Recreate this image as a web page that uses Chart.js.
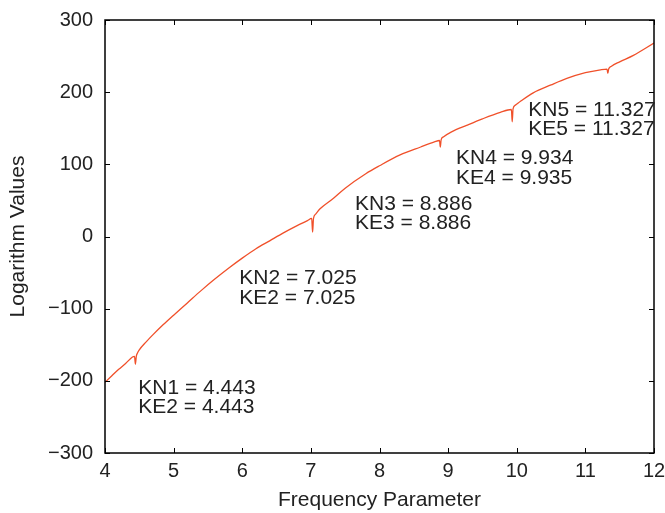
<!DOCTYPE html>
<html>

<head>
    <title>Logarithm Values</title>
    <script src="https://cdn.jsdelivr.net/npm/chart.js"></script>
    <style>
        html, body { margin: 0; padding: 0; background: #fff; }
        .chart-box { width: 665px; height: 513px; }
    </style>
</head>

<body>
    <div class="chart-box">
        <canvas id="chart" width="665" height="513"></canvas>
    </div>

    <script type="text/javascript">
        // curve samples
        const freq = [4.0, 4.1, 4.2, 4.3, 4.4, 4.43, 4.443, 4.456, 4.47, 4.5, 4.6, 4.7, 4.85, 5.0, 5.2, 5.4,
            5.6, 5.8, 6.0, 6.2, 6.4, 6.6, 6.8, 6.95, 7.012, 7.025, 7.038, 7.07, 7.13, 7.33, 7.5, 7.8,
            8.0, 8.3, 8.6, 8.8, 8.874, 8.886, 8.898, 8.93, 9.05, 9.27, 9.5, 9.76, 9.922, 9.934, 9.946, 9.98,
            10.05, 10.24, 10.5, 10.73, 11.0, 11.22, 11.315, 11.327, 11.339, 11.38, 11.5, 11.7, 12.0];
        const logValues = [-202, -193, -184, -176, -167, -166, -177, -166, -162, -157, -146, -136, -122, -109, -92, -75,
            -59, -44, -30, -17, -6, 5, 15, 22, 25, 6, 25, 31, 38, 53, 67, 87,
            98, 113, 124, 131, 133, 124, 134, 138, 145, 154, 163, 172, 176, 159, 177, 182,
            187, 199, 210, 219, 227, 231, 232, 226, 232, 236, 242, 251, 268];

        const xTicks = [4, 5, 6, 7, 8, 9, 10, 11, 12];
        const yTicks = [-300, -200, -100, 0, 100, 200, 300];

        // annotation text and where its first line sits (data coords)
        const noteLines = [
            ['KN1 = 4.443', 'KE2 = 4.443'],
            ['KN2 = 7.025', 'KE2 = 7.025'],
            ['KN3 = 8.886', 'KE3 = 8.886'],
            ['KN4 = 9.934', 'KE4 = 9.935'],
            ['KN5 = 11.327', 'KE5 = 11.327'],
        ];
        const noteX = [4.485, 5.957, 7.643, 9.115, 10.168];
        const noteY = [-218, -66, 37, 100, 167];

        const textColor = '#222';
        const fontFamily = '"Liberation Sans", Arial, sans-serif';

        // box around plot area + inward ticks on all sides + the KN/KE notes
        const boxPlugin = {
            id: 'box',
            afterDatasetsDraw(chart) {
                const ctx = chart.ctx;
                const a = chart.chartArea;
                const xs = chart.scales.x, ys = chart.scales.y;
                ctx.save();
                ctx.strokeStyle = '#000';
                ctx.lineWidth = 1.5;
                ctx.strokeRect(a.left, a.top, a.right - a.left, a.bottom - a.top);

                ctx.lineWidth = 1;
                ctx.beginPath();
                xTicks.forEach(v => {
                    let px = Math.round(xs.getPixelForValue(v)) + 0.5;
                    ctx.moveTo(px, a.bottom); ctx.lineTo(px, a.bottom - 5);
                    ctx.moveTo(px, a.top); ctx.lineTo(px, a.top + 5);
                });
                yTicks.forEach(v => {
                    let py = Math.round(ys.getPixelForValue(v)) + 0.5;
                    ctx.moveTo(a.left, py); ctx.lineTo(a.left + 5, py);
                    ctx.moveTo(a.right, py); ctx.lineTo(a.right - 5, py);
                });
                ctx.stroke();

                ctx.fillStyle = textColor;
                ctx.font = '21px ' + fontFamily;
                ctx.textAlign = 'left';
                ctx.textBaseline = 'alphabetic';
                noteLines.forEach((lines, i) => {
                    let px = xs.getPixelForValue(noteX[i]);
                    let py = ys.getPixelForValue(noteY[i]);
                    lines.forEach((t, j) => ctx.fillText(t, px, py + j * 19.5));
                });
                ctx.restore();
            }
        };

        const ctx = document.getElementById('chart');
        let chart = new Chart(ctx, {
            type: 'line',
            data: {
                datasets: [{
                    label: 'Logarithm',
                    data: freq.map((f, i) => ({ x: f, y: logValues[i] })),
                    borderColor: '#f0502a',
                    borderWidth: 1.3,
                    pointRadius: 0,
                    cubicInterpolationMode: 'monotone',
                    fill: false
                }]
            },
            options: {
                responsive: false,
                animation: false,
                layout: { padding: { top: 20, right: 11, left: 0, bottom: 0 } },
                plugins: {
                    legend: { display: false },
                    tooltip: { enabled: false }
                },
                scales: {
                    x: {
                        type: 'linear',
                        min: 4,
                        max: 12,
                        afterBuildTicks: s => { s.ticks = xTicks.map(v => ({ value: v })); },
                        afterFit: s => { s.height = 60; s.paddingLeft = 0; s.paddingRight = 0; },
                        grid: { display: false, drawTicks: false },
                        border: { display: false },
                        ticks: {
                            color: textColor,
                            padding: 6,
                            maxRotation: 0,
                            font: { family: fontFamily, size: 20 }
                        },
                        title: {
                            display: true,
                            text: 'Frequency Parameter',
                            color: textColor,
                            padding: { top: 2, bottom: 0 },
                            font: { family: fontFamily, size: 21 }
                        }
                    },
                    y: {
                        min: -300,
                        max: 300,
                        afterBuildTicks: s => { s.ticks = yTicks.map(v => ({ value: v })); },
                        afterFit: s => { s.width = 105; s.paddingTop = 0; s.paddingBottom = 0; },
                        grid: { display: false, drawTicks: false },
                        border: { display: false },
                        ticks: {
                            color: textColor,
                            padding: 12,
                            font: { family: fontFamily, size: 20 },
                            callback: v => String(v).replace('-', '\u2212')
                        },
                        title: {
                            display: true,
                            text: 'Logarithm Values',
                            color: textColor,
                            padding: { top: 6, bottom: 0 },
                            font: { family: fontFamily, size: 21 }
                        }
                    }
                }
            },
            plugins: [boxPlugin]
        });
    </script>
</body>

</html>
